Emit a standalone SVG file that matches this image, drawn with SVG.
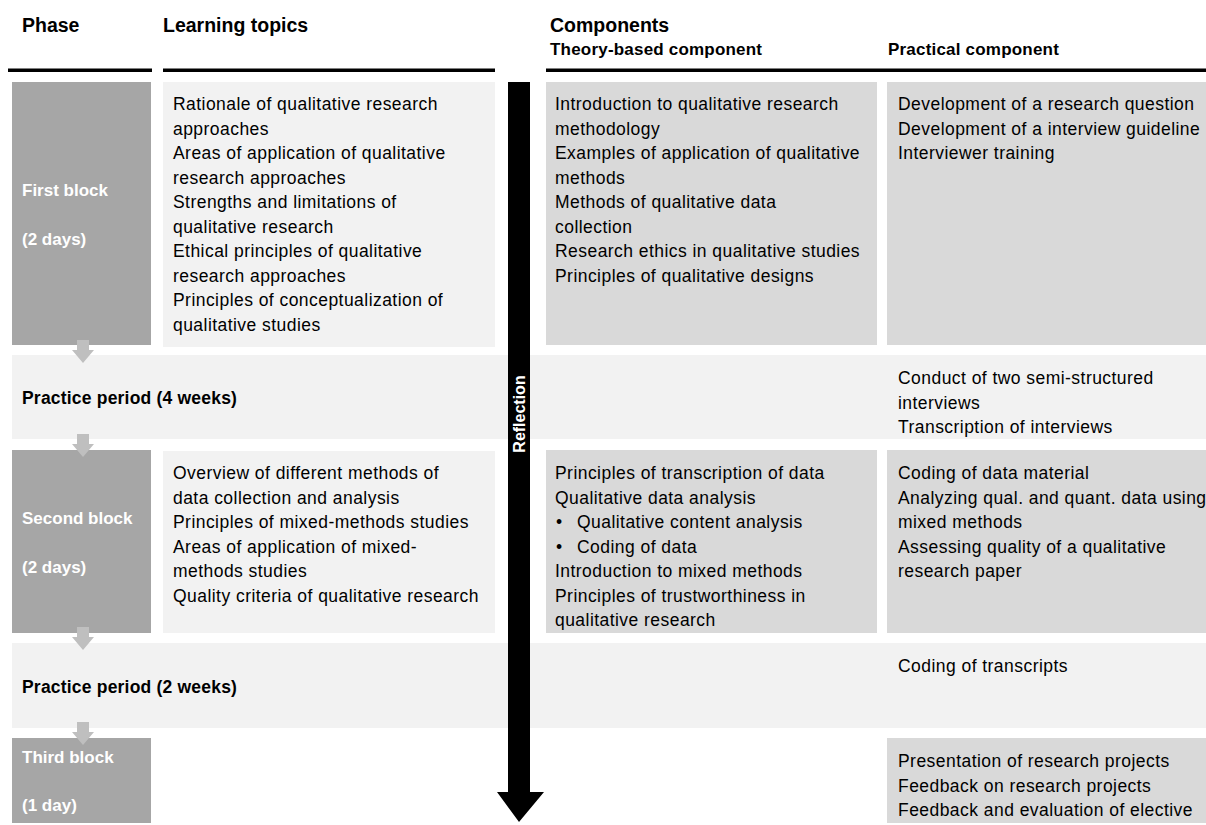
<svg xmlns="http://www.w3.org/2000/svg" width="1206" height="825" viewBox="0 0 1206 825">
<style>
text{font-family:"Liberation Sans",Arial,sans-serif;fill:#000}
.h1{font-size:19.5px;font-weight:bold}
.h2{font-size:17px;font-weight:bold;letter-spacing:0.2px}
.t{font-size:17.5px;letter-spacing:0.45px}
.ph{font-size:17px;font-weight:bold;fill:#fff}
.pp{font-size:17.5px;font-weight:bold;letter-spacing:0.2px}
.phase{fill:#a6a6a6}
.light{fill:#f2f2f2}
.mid{fill:#d9d9d9}
.garrow{fill:#bfbfbf}
</style>
<defs>
<path id="ga" d="M-6,0 H6 V10 H11 L0,23 L-11,10 H-6 Z"/>
</defs>
<g id="header">
<text class="h1" x="22" y="32">Phase</text>
<text class="h1" x="163" y="32">Learning topics</text>
<text class="h1" x="550" y="32">Components</text>
<text class="h2" x="550" y="55">Theory-based component</text>
<text class="h2" x="888" y="55">Practical component</text>
<rect x="8" y="68.5" width="144" height="3.5" fill="#000"/>
<rect x="163" y="68.5" width="332" height="3.5" fill="#000"/>
<rect x="546" y="68.5" width="660" height="3.5" fill="#000"/>
</g>
<g id="practice1">
<rect class="light" x="12" y="355" width="1194" height="84"/>
<text class="pp" x="22" y="404">Practice period (4 weeks)</text>
<text class="t" x="898" y="384">Conduct of two semi-structured</text>
<text class="t" x="898" y="408.5">interviews</text>
<text class="t" x="898" y="433">Transcription of interviews</text>
</g>
<g id="practice2">
<rect class="light" x="12" y="643" width="1194" height="85"/>
<text class="pp" x="22" y="693">Practice period (2 weeks)</text>
<text class="t" x="898" y="672">Coding of transcripts</text>
</g>
<g id="first-block">
<rect class="phase" x="12" y="82" width="139" height="263"/>
<text class="ph" x="22" y="196">First block</text>
<text class="ph" x="22" y="245">(2 days)</text>
</g>
<g id="first-learning">
<rect class="light" x="163" y="82" width="332" height="265"/>
<text class="t" x="173" y="110">Rationale of qualitative research</text>
<text class="t" x="173" y="134.5">approaches</text>
<text class="t" x="173" y="159">Areas of application of qualitative</text>
<text class="t" x="173" y="183.5">research approaches</text>
<text class="t" x="173" y="208">Strengths and limitations of</text>
<text class="t" x="173" y="232.5">qualitative research</text>
<text class="t" x="173" y="257">Ethical principles of qualitative</text>
<text class="t" x="173" y="281.5">research approaches</text>
<text class="t" x="173" y="306">Principles of conceptualization of</text>
<text class="t" x="173" y="330.5">qualitative studies</text>
</g>
<g id="first-theory">
<rect class="mid" x="546" y="82" width="331" height="263"/>
<text class="t" x="555" y="110">Introduction to qualitative research</text>
<text class="t" x="555" y="134.5">methodology</text>
<text class="t" x="555" y="159">Examples of application of qualitative</text>
<text class="t" x="555" y="183.5">methods</text>
<text class="t" x="555" y="208">Methods of qualitative data</text>
<text class="t" x="555" y="232.5">collection</text>
<text class="t" x="555" y="257">Research ethics in qualitative studies</text>
<text class="t" x="555" y="281.5">Principles of qualitative designs</text>
</g>
<g id="first-practical">
<rect class="mid" x="887" y="82" width="319" height="263"/>
<text class="t" x="898" y="110">Development of a research question</text>
<text class="t" x="898" y="134.5">Development of a interview guideline</text>
<text class="t" x="898" y="159">Interviewer training</text>
</g>
<g id="second-block">
<rect class="phase" x="12" y="450" width="139" height="183"/>
<text class="ph" x="22" y="524">Second block</text>
<text class="ph" x="22" y="573">(2 days)</text>
</g>
<g id="second-learning">
<rect class="light" x="163" y="451" width="332" height="182"/>
<text class="t" x="173" y="479">Overview of different methods of</text>
<text class="t" x="173" y="503.5">data collection and analysis</text>
<text class="t" x="173" y="528">Principles of mixed-methods studies</text>
<text class="t" x="173" y="552.5">Areas of application of mixed-</text>
<text class="t" x="173" y="577">methods studies</text>
<text class="t" x="173" y="601.5">Quality criteria of qualitative research</text>
</g>
<g id="second-theory">
<rect class="mid" x="546" y="450" width="331" height="183"/>
<text class="t" x="555" y="479">Principles of transcription of data</text>
<text class="t" x="555" y="503.5">Qualitative data analysis</text>
<text class="t" x="556" y="528">•</text>
<text class="t" x="577" y="528">Qualitative content analysis</text>
<text class="t" x="556" y="552.5">•</text>
<text class="t" x="577" y="552.5">Coding of data</text>
<text class="t" x="555" y="577">Introduction to mixed methods</text>
<text class="t" x="555" y="601.5">Principles of trustworthiness in</text>
<text class="t" x="555" y="626">qualitative research</text>
</g>
<g id="second-practical">
<rect class="mid" x="887" y="450" width="319" height="183"/>
<text class="t" x="898" y="479">Coding of data material</text>
<text class="t" x="898" y="503.5">Analyzing qual. and quant. data using</text>
<text class="t" x="898" y="528">mixed methods</text>
<text class="t" x="898" y="552.5">Assessing quality of a qualitative</text>
<text class="t" x="898" y="577">research paper</text>
</g>
<g id="third-block">
<rect class="phase" x="12" y="738" width="139" height="85"/>
<text class="ph" x="22" y="763">Third block</text>
<text class="ph" x="22" y="811">(1 day)</text>
</g>
<g id="third-practical">
<rect class="mid" x="887" y="738" width="319" height="85"/>
<text class="t" x="898" y="767">Presentation of research projects</text>
<text class="t" x="898" y="791.5">Feedback on research projects</text>
<text class="t" x="898" y="816">Feedback and evaluation of elective</text>
</g>
<g id="connectors">
<use href="#ga" class="garrow" x="83" y="340"/>
<use href="#ga" class="garrow" x="83" y="434"/>
<use href="#ga" class="garrow" x="83" y="627"/>
<use href="#ga" class="garrow" x="83" y="722"/>
<path d="M508,82 H530 V792 H544 L519,822 L497,792 H508 Z" fill="#000"/>
</g>
<g id="reflection-label">
<text x="0" y="0" transform="translate(525,414) rotate(-90)" text-anchor="middle" style="font-size:16px;font-weight:bold;fill:#fff">Reflection</text>
</g>
</svg>
